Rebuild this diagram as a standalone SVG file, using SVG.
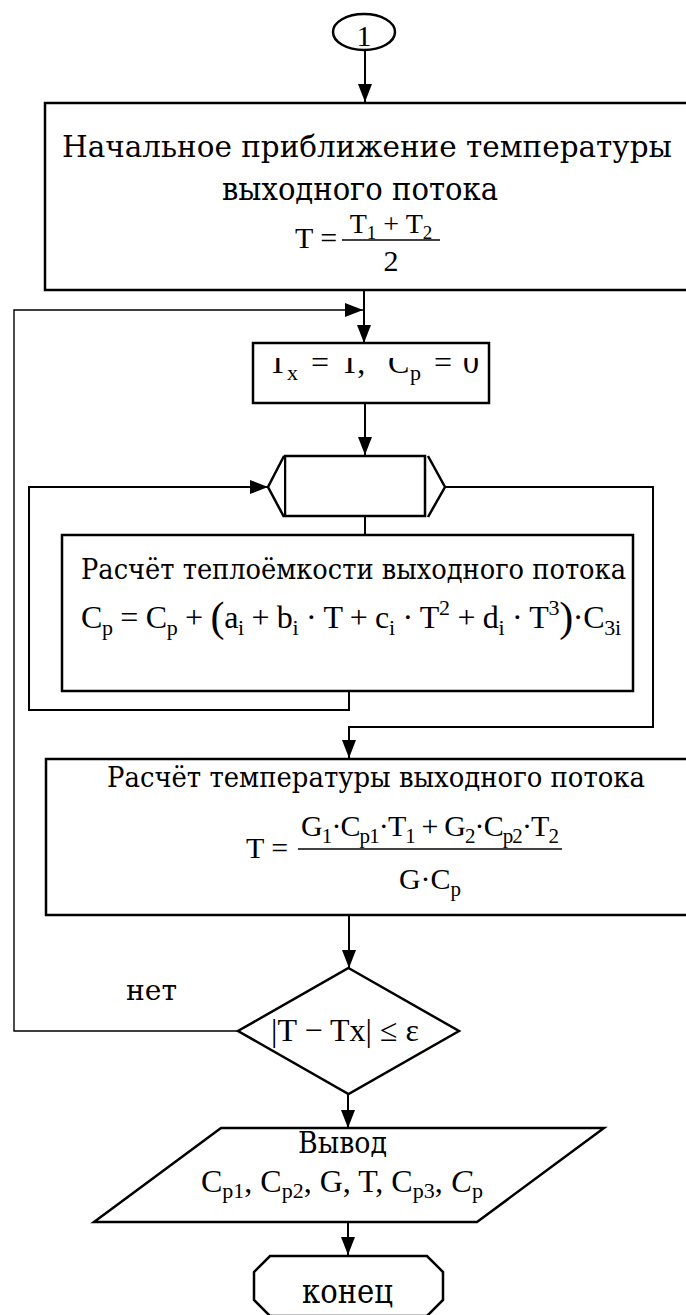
<svg xmlns="http://www.w3.org/2000/svg" width="686" height="1315" viewBox="0 0 686 1315">
  <style>
    .node { fill: #fff; stroke: #000; stroke-width: 2.5; }
    .wire { fill: none; stroke: #000; stroke-width: 2; }
    .thin { fill: none; stroke: #000; stroke-width: 1.4; }
    text { font-family: "Liberation Serif", "Times New Roman", serif; fill: #000; }
    .cyr { font-family: "DejaVu Serif", "Liberation Serif", serif; }
    .t32 { font-size: 32px; }
    .t30 { font-size: 30px; }
    .t28 { font-size: 28px; }
  </style>
  <defs>
    <marker id="arrow" markerUnits="userSpaceOnUse" markerWidth="18" markerHeight="14" refX="18" refY="7" orient="auto">
      <path d="M0,0 L18,7 L0,14 Z" fill="#000"/>
    </marker>
    <clipPath id="clipReset">
      <rect x="253" y="358" width="236" height="45"/>
    </clipPath>
  </defs>

  <!-- connectors -->
  <g id="connectors">
    <line class="wire" x1="365" y1="50" x2="365" y2="102" marker-end="url(#arrow)"/>
    <line class="wire" x1="364" y1="291" x2="364" y2="343" marker-end="url(#arrow)"/>
    <polyline class="thin" points="238,1031 14,1031 14,310 363,310" marker-end="url(#arrow)"/>
    <line class="wire" x1="365" y1="403" x2="365" y2="455" marker-end="url(#arrow)"/>
    <line class="wire" x1="365" y1="516" x2="365" y2="535"/>
    <polyline class="wire" points="349,691 349,710 29,710 29,487 268,487" marker-end="url(#arrow)"/>
    <polyline class="wire" points="445,487 653,487 653,727 349,727 349,758" marker-end="url(#arrow)"/>
    <line class="wire" x1="349" y1="915" x2="349" y2="968" marker-end="url(#arrow)"/>
    <line class="wire" x1="348" y1="1094" x2="348" y2="1128" marker-end="url(#arrow)"/>
    <line class="wire" x1="348" y1="1222" x2="348" y2="1255" marker-end="url(#arrow)"/>
  </g>

  <!-- connector 1 -->
  <g id="start">
    <ellipse class="node" cx="364" cy="32" rx="31" ry="18" stroke-width="2"/>
    <text class="t30" x="364" y="46" text-anchor="middle">1</text>
  </g>

  <!-- initial guess -->
  <g id="init">
    <rect class="node" x="45" y="103" width="650" height="187"/>
    <text class="cyr" font-size="29" x="62" y="157" textLength="610" lengthAdjust="spacingAndGlyphs">Начальное приближение температуры</text>
    <text class="cyr" font-size="32" x="222" y="200" textLength="276" lengthAdjust="spacingAndGlyphs">выходного потока</text>
    <text class="t30" x="295" y="248">T =</text>
    <text class="t28" x="391" y="233" text-anchor="middle">T<tspan dy="6" font-size="19">1</tspan><tspan dy="-6"> + T</tspan><tspan dy="6" font-size="19">2</tspan></text>
    <line x1="342" y1="240" x2="440" y2="240" stroke="#000" stroke-width="1.5"/>
    <text class="t30" x="391" y="271" text-anchor="middle">2</text>
  </g>

  <!-- reset -->
  <g id="reset">
    <rect class="node" x="253" y="343" width="236" height="60"/>
    <text class="t32" y="373" clip-path="url(#clipReset)"><tspan x="268">T</tspan><tspan x="287" dy="7" font-size="22">x</tspan><tspan x="311" dy="-7">=</tspan><tspan x="340">T,</tspan><tspan x="388">C</tspan><tspan x="410" dy="7" font-size="22">p</tspan><tspan x="434" dy="-7">=</tspan><tspan x="463">0</tspan></text>
  </g>

  <!-- loop over components -->
  <g id="loop">
    <rect class="node" x="285" y="456" width="140" height="60"/>
    <polyline class="node" fill="none" points="284,456 268,487 284,517"/>
    <polyline class="node" fill="none" points="428,456 445,487 428,517"/>
  </g>

  <!-- heat capacity -->
  <g id="cp">
    <rect class="node" x="62" y="535" width="571" height="156"/>
    <text class="cyr" font-size="27" x="81" y="579" textLength="545" lengthAdjust="spacingAndGlyphs">Расчёт теплоёмкости выходного потока</text>
    <text class="t32" x="81" y="628" textLength="540" lengthAdjust="spacing">C<tspan dy="7" font-size="22">p</tspan><tspan dy="-7"> = C</tspan><tspan dy="7" font-size="22">p</tspan><tspan dy="-7"> + </tspan><tspan dy="3" font-size="42">(</tspan><tspan dy="-3">a</tspan><tspan dy="7" font-size="22">i</tspan><tspan dy="-7"> + b</tspan><tspan dy="7" font-size="22">i</tspan><tspan dy="-7"> · T + c</tspan><tspan dy="7" font-size="22">i</tspan><tspan dy="-7"> · T</tspan><tspan dy="-13" font-size="22">2</tspan><tspan dy="13"> + d</tspan><tspan dy="7" font-size="22">i</tspan><tspan dy="-7"> · T</tspan><tspan dy="-13" font-size="22">3</tspan><tspan dy="16" font-size="42">)</tspan><tspan dy="-3">·C</tspan><tspan dy="7" font-size="22">3i</tspan></text>
  </g>

  <!-- outlet temperature -->
  <g id="temp">
    <rect class="node" x="46" y="759" width="660" height="156"/>
    <text class="cyr" font-size="27" x="107" y="787" textLength="538" lengthAdjust="spacingAndGlyphs">Расчёт температуры выходного потока</text>
    <text class="t30" x="246" y="858">T =</text>
    <text class="t30" x="301" y="836" textLength="258" lengthAdjust="spacing">G<tspan dy="7" font-size="21">1</tspan><tspan dy="-7">·C</tspan><tspan dy="7" font-size="21">p1</tspan><tspan dy="-7">·T</tspan><tspan dy="7" font-size="21">1</tspan><tspan dy="-7"> + G</tspan><tspan dy="7" font-size="21">2</tspan><tspan dy="-7">·C</tspan><tspan dy="7" font-size="21">p2</tspan><tspan dy="-7">·T</tspan><tspan dy="7" font-size="21">2</tspan></text>
    <line x1="298" y1="849" x2="562" y2="849" stroke="#000" stroke-width="1.5"/>
    <text class="t30" x="430" y="889" text-anchor="middle">G·C<tspan dy="7" font-size="21">p</tspan></text>
  </g>

  <!-- convergence check -->
  <g id="check">
    <polygon class="node" stroke-width="2" points="348.5,968 459,1031 348.5,1094 238,1031"/>
    <text class="t32" x="345" y="1041" text-anchor="middle">|T − Tx| ≤ ε</text>
    <text class="cyr" font-size="28" x="126" y="1000" textLength="51" lengthAdjust="spacingAndGlyphs">нет</text>
  </g>

  <!-- output -->
  <g id="out">
    <polygon class="node" points="221,1128 604,1128 477,1222 94,1222"/>
    <text class="cyr" font-size="29" x="298" y="1153" textLength="89" lengthAdjust="spacingAndGlyphs">Вывод</text>
    <text class="t32" x="342" y="1192" text-anchor="middle">C<tspan dy="6" font-size="22">p1</tspan><tspan dy="-6">, C</tspan><tspan dy="6" font-size="22">p2</tspan><tspan dy="-6">, G, T, C</tspan><tspan dy="6" font-size="22">p3</tspan><tspan dy="-6">, </tspan><tspan font-style="italic">C</tspan><tspan dy="6" font-size="22">p</tspan></text>
  </g>

  <!-- end -->
  <g id="end">
    <polygon class="node" points="270,1256 427,1256 443,1272 443,1300 427,1316 270,1316 254,1300 254,1272"/>
    <text class="cyr" font-size="34" x="302" y="1303" textLength="91" lengthAdjust="spacingAndGlyphs">конец</text>
  </g>
</svg>
